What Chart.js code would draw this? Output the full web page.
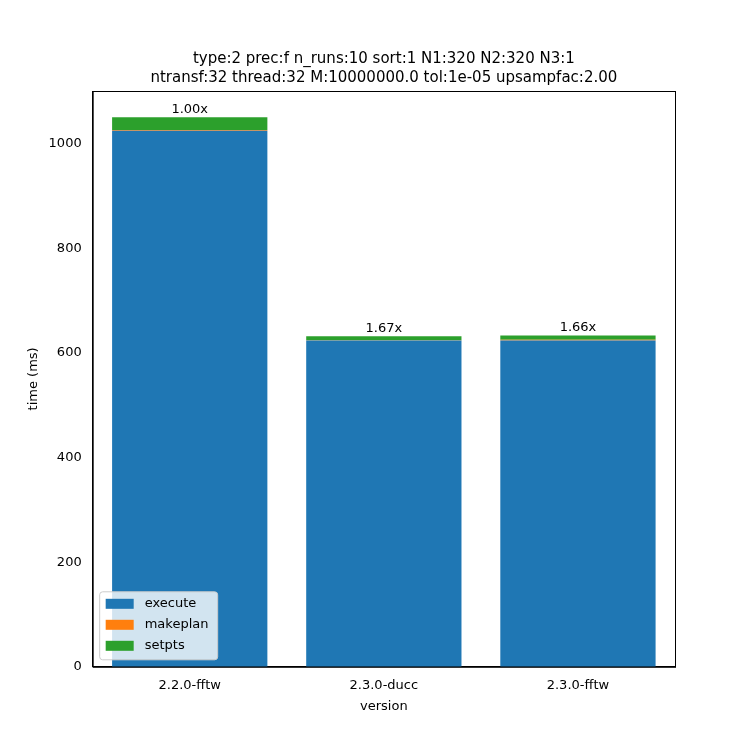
<!DOCTYPE html>
<html><head><meta charset="utf-8">
<script src="https://cdn.jsdelivr.net/npm/chart.js@4"></script>
<style>html,body{margin:0;background:#fff}#w{width:750px;height:750px}</style>
</head><body><div id="w"><canvas id="c"></canvas></div>
<script>
const categories = ["2.2.0-fftw", "2.3.0-ducc", "2.3.0-fftw"];
const execute = [1025, 624, 624];
const makeplan = [1.5, 0.5, 1.5];
const setpts = [24.5, 7.5, 8];
const speedups = ["1.00x", "1.67x", "1.66x"];
const titleLines = ["type:2 prec:f n_runs:10 sort:1 N1:320 N2:320 N3:1", "ntransf:32 thread:32 M:10000000.0 tol:1e-05 upsampfac:2.00"];
const F = "DejaVu Sans";
const overlay = {
  id: 'overlay',
  afterDatasetsDraw(ch) {
    const ctx = ch.ctx, a = ch.chartArea, x = ch.scales.x, y = ch.scales.y;
    ctx.save();
    ctx.fillStyle = '#000'; ctx.font = '15px ' + F; ctx.textAlign = 'center'; ctx.textBaseline = 'alphabetic';
    const cx = (a.left + a.right) / 2;
    ctx.fillText(titleLines[0], cx, 63);
    ctx.fillText(titleLines[1], cx, 82);
    ctx.font = '13px ' + F; ctx.textBaseline = 'bottom';
    categories.forEach((c, i) => {
      const t = execute[i] + makeplan[i] + setpts[i];
      ctx.fillText(speedups[i], x.getPixelForValue(i), y.getPixelForValue(t) - 1);
    });
    ctx.strokeStyle = '#000'; ctx.lineWidth = 1;
    ctx.strokeRect(a.left + 0.5, a.top + 0.5, a.right - a.left, a.bottom - a.top);
    const lx = a.left + 7, ly = a.bottom - 75, lw = 118, lh = 68;
    ctx.fillStyle = 'rgba(255,255,255,0.8)'; ctx.strokeStyle = '#ccc';
    ctx.beginPath(); ctx.roundRect(lx, ly, lw, lh, 3); ctx.fill(); ctx.stroke();
    const items = [["execute", '#1f77b4'], ["makeplan", '#ff7f0e'], ["setpts", '#2ca02c']];
    ctx.textAlign = 'left'; ctx.textBaseline = 'middle'; ctx.font = '13px ' + F;
    items.forEach((it, k) => {
      const yy = ly + 12 + k * 21;
      ctx.fillStyle = it[1]; ctx.fillRect(lx + 6, yy - 5, 28, 10);
      ctx.fillStyle = '#000'; ctx.fillText(it[0], lx + 45, yy);
    });
    ctx.restore();
  }
};
new Chart(document.getElementById('c'), {
  type: 'bar',
  data: { labels: categories, datasets: [
    { label: 'execute', data: execute, backgroundColor: '#1f77b4' },
    { label: 'makeplan', data: makeplan, backgroundColor: '#ff7f0e' },
    { label: 'setpts', data: setpts, backgroundColor: '#2ca02c' }
  ]},
  options: {
    responsive: true, maintainAspectRatio: false, animation: false,
    layout: { padding: { top: 91, right: 75, left: 22, bottom: 32 } },
    datasets: { bar: { categoryPercentage: 1, barPercentage: 0.8, borderWidth: 0 } },
    plugins: { legend: { display: false }, tooltip: { enabled: false }, title: { display: false } },
    scales: {
      x: { stacked: true, offset: true, grid: { display: false }, border: { color: '#000' },
        ticks: { color: '#000', font: { family: F, size: 13 } },
        title: { display: true, text: 'version', color: '#000', font: { family: F, size: 13 }, padding: { top: 2 } } },
      y: { stacked: true, min: 0, max: 1101, grid: { display: false }, border: { color: '#000' },
        afterBuildTicks(s) { s.ticks = [0, 200, 400, 600, 800, 1000].map(v => ({ value: v })); },
        ticks: { color: '#000', font: { family: F, size: 13 }, callback: v => String(v) },
        title: { display: true, text: 'time (ms)', color: '#000', font: { family: F, size: 13 } } }
    }
  },
  plugins: [overlay]
});
</script></body></html>
